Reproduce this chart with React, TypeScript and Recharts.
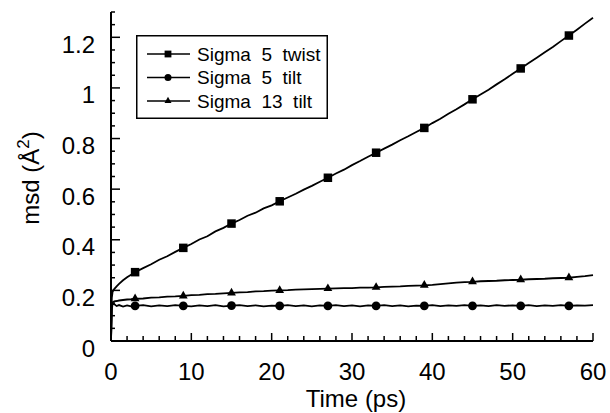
import { LineChart, Line, XAxis, YAxis, Legend } from 'recharts';

const time = [
  0, 0.1, 0.2, 0.4, 0.7, 1, 1.5, 2, 2.5, 3,
  4, 5, 6, 7, 8, 9, 10, 11, 12, 13,
  14, 15, 16, 17, 18, 19, 20, 21, 22, 23,
  24, 25, 26, 27, 28, 29, 30, 31, 32, 33,
  34, 35, 36, 37, 38, 39, 40, 41, 42, 43,
  44, 45, 46, 47, 48, 49, 50, 51, 52, 53,
  54, 55, 56, 57, 58, 59, 60,
];

const sigma5Twist = [
  0, 0.17, 0.195, 0.205, 0.216, 0.226, 0.24, 0.252, 0.262, 0.272,
  0.288, 0.303, 0.321, 0.335, 0.352, 0.368, 0.383, 0.401, 0.414, 0.433,
  0.447, 0.464, 0.478, 0.495, 0.507, 0.524, 0.536, 0.552, 0.567, 0.582,
  0.598, 0.613, 0.629, 0.645, 0.662, 0.677, 0.695, 0.711, 0.728, 0.744,
  0.76, 0.776, 0.793, 0.809, 0.826, 0.842, 0.861, 0.878, 0.898, 0.916,
  0.935, 0.955, 0.974, 0.993, 1.014, 1.034, 1.056, 1.077, 1.098, 1.119,
  1.141, 1.162, 1.185, 1.207, 1.23, 1.254, 1.277,
];

const sigma5Tilt = [
  0, 0.125, 0.148, 0.146, 0.138, 0.142, 0.136, 0.141, 0.137, 0.139,
  0.142, 0.137, 0.141, 0.138, 0.142, 0.139, 0.137, 0.141, 0.138, 0.142,
  0.137, 0.14, 0.142, 0.138, 0.141, 0.137, 0.14, 0.139, 0.142, 0.138,
  0.141, 0.137, 0.141, 0.139, 0.142, 0.138, 0.141, 0.137, 0.141, 0.139,
  0.142, 0.138, 0.141, 0.137, 0.14, 0.139, 0.142, 0.138, 0.141, 0.139,
  0.142, 0.139, 0.141, 0.138, 0.142, 0.139, 0.141, 0.139, 0.142, 0.138,
  0.141, 0.139, 0.142, 0.139, 0.141, 0.14, 0.142,
];

const sigma13Tilt = [
  0, 0.14, 0.153, 0.157, 0.158, 0.16, 0.162, 0.164, 0.165, 0.167,
  0.168, 0.171, 0.172, 0.175, 0.176, 0.178, 0.181, 0.182, 0.185, 0.186,
  0.188, 0.19, 0.192, 0.193, 0.196, 0.197, 0.199, 0.2, 0.201, 0.203,
  0.204, 0.205, 0.206, 0.207, 0.208, 0.209, 0.209, 0.211, 0.211, 0.212,
  0.214, 0.215, 0.216, 0.218, 0.219, 0.22, 0.222, 0.225, 0.228, 0.231,
  0.233, 0.234, 0.236, 0.237, 0.238, 0.24, 0.241, 0.242, 0.244, 0.245,
  0.246, 0.248, 0.249, 0.25, 0.253, 0.256, 0.26,
];

// markers are only drawn every 6 ps
const markerTimes = [3, 9, 15, 21, 27, 33, 39, 45, 51, 57];

const xTicks = [0, 2, 4, 6, 8, 10, 12, 14, 16, 18, 20, 22, 24, 26, 28, 30, 32, 34, 36, 38, 40, 42, 44, 46, 48, 50, 52, 54, 56, 58, 60];
const xMajor = [0, 10, 20, 30, 40, 50, 60];
const yTicks = [0, 0.05, 0.1, 0.15, 0.2, 0.25, 0.3, 0.35, 0.4, 0.45, 0.5, 0.55, 0.6, 0.65, 0.7, 0.75, 0.8, 0.85, 0.9, 0.95, 1, 1.05, 1.1, 1.15, 1.2, 1.25, 1.3];
const yMajor = [0, 0.2, 0.4, 0.6, 0.8, 1, 1.2];

const seriesNames = ['Sigma  5  twist', 'Sigma  5  tilt', 'Sigma  13  tilt'];
const seriesKeys = ['twist5', 'tilt5', 'tilt13'];
const markerShapes = ['square', 'circle', 'triangle'];

const FONT = '"Liberation Sans", Arial, Helvetica, sans-serif';

const data = time.map((t, i) => ({
  t,
  twist5: sigma5Twist[i],
  tilt5: sigma5Tilt[i],
  tilt13: sigma13Tilt[i],
}));

const Marker = ({ shape, cx, cy, size = 1 }: { shape: string; cx: number; cy: number; size?: number }) => {
  if (shape === 'square') {
    const s = 8.5 * size;
    return <rect x={cx - s / 2} y={cy - s / 2} width={s} height={s} fill="#000" />;
  }
  if (shape === 'circle') {
    return <circle cx={cx} cy={cy} r={4.4 * size} fill="#000" />;
  }
  const w = 4.4 * size;
  return <polygon points={`${cx - w},${cy + 2.5 * size} ${cx + w},${cy + 2.5 * size} ${cx},${cy - 5.2 * size}`} fill="#000" />;
};

const makeDot = (shape: string) => (props: any) => {
  const { cx, cy, payload, index } = props;
  if (!markerTimes.includes(payload.t)) return <g key={`d-${index}`} />;
  return (
    <g key={`d-${index}`}>
      <Marker shape={shape} cx={cx} cy={cy} />
    </g>
  );
};

const XTick = ({ x, y, payload }: any) => {
  const major = xMajor.includes(payload.value);
  return (
    <g>
      <line x1={x} x2={x} y1={y} y2={y - (major ? 8 : 5)} stroke="#000" strokeWidth={1.5} />
      {major && (
        <text x={x} y={y + 39} textAnchor="middle" fontSize={24} fontFamily={FONT} fill="#000">
          {payload.value}
        </text>
      )}
    </g>
  );
};

const YTick = ({ x, y, payload }: any) => {
  const major = yMajor.includes(payload.value);
  return (
    <g>
      <line x1={x} x2={x + (major ? 9 : 4)} y1={y} y2={y} stroke="#000" strokeWidth={1.5} />
      {major && (
        <text x={x - 16} y={y + 15.5} textAnchor="end" fontSize={24} fontFamily={FONT} fill="#000">
          {payload.value}
        </text>
      )}
    </g>
  );
};

const YTitle = () => (
  <text transform="translate(39,178) rotate(-90)" textAnchor="middle" fontSize={24} fontFamily={FONT} fill="#000">
    msd (Å<tspan dy={-10} fontSize={17}>2</tspan>
    <tspan dy={10}>)</tspan>
  </text>
);

const XTitle = () => (
  <text x={356} y={407} textAnchor="middle" fontSize={24} fontFamily={FONT} fill="#000">
    Time (ps)
  </text>
);

const LegendBox = () => (
  <svg width={192} height={84} style={{ display: 'block' }}>
    <rect x={0.75} y={0.75} width={190.5} height={82.5} fill="#fff" stroke="#000" strokeWidth={1.5} />
    {seriesNames.map((name, i) => {
      const ly = 19 + i * 23.5;
      return (
        <g key={name}>
          <line x1={11} x2={54} y1={ly} y2={ly} stroke="#000" strokeWidth={1.5} />
          <Marker shape={markerShapes[i]} cx={32} cy={ly} size={0.8} />
          <text x={61} y={ly + 6.5} fontSize={19} fontFamily={FONT} fill="#000" style={{ whiteSpace: 'pre' }}>
            {name}
          </text>
        </g>
      );
    })}
  </svg>
);

export default function App() {
  return (
    <div style={{ width: 610, height: 413, background: '#fff' }}>
      <style>{'body{margin:0;background:#fff}'}</style>
      <LineChart width={610} height={413} data={data} margin={{ top: 12, right: 17, left: 0, bottom: 0 }}>
        <XAxis
          type="number"
          dataKey="t"
          domain={[0, 60]}
          ticks={xTicks}
          interval={0}
          height={72}
          tickSize={0}
          tickMargin={0}
          tickLine={false}
          axisLine={{ stroke: '#000', strokeWidth: 2 }}
          tick={<XTick />}
          label={XTitle}
        />
        <YAxis
          type="number"
          domain={[0, 1.3]}
          ticks={yTicks}
          interval={0}
          width={111}
          tickSize={0}
          tickMargin={0}
          tickLine={false}
          allowDataOverflow
          axisLine={{ stroke: '#000', strokeWidth: 2 }}
          tick={<YTick />}
          label={YTitle}
        />
        <Legend
          layout="horizontal"
          verticalAlign="middle"
          align="center"
          wrapperStyle={{ left: 136, top: 35, width: 192, height: 84 }}
          content={LegendBox}
        />
        {seriesKeys.map((key, i) => (
          <Line
            key={key}
            dataKey={key}
            name={seriesNames[i]}
            type="linear"
            stroke="#000"
            strokeWidth={1.8}
            dot={makeDot(markerShapes[i])}
            activeDot={false}
            isAnimationActive={false}
          />
        ))}
      </LineChart>
    </div>
  );
}
